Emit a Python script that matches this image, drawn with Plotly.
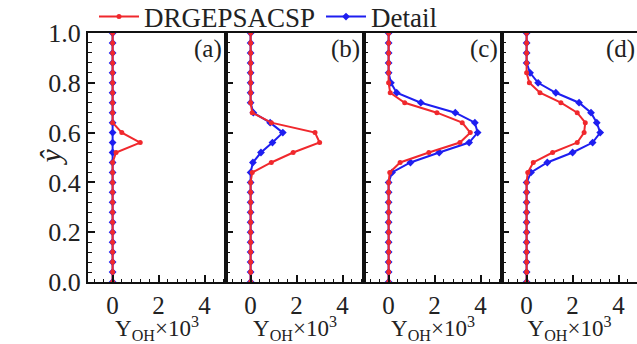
import plotly.graph_objects as go

# normalized height y-hat (common grid)
Y_GRID = [0.00, 0.04, 0.08, 0.12, 0.16, 0.20, 0.24, 0.28, 0.32, 0.36,
          0.40, 0.44, 0.48, 0.52, 0.56, 0.60, 0.64, 0.68, 0.72, 0.76,
          0.80, 0.84, 0.88, 0.92, 0.96, 1.00]

# Y_OH x 10^3 values, one entry per Y_GRID point
RED_A = [0, 0, 0, 0, 0, 0, 0, 0, 0, 0, 0, 0, 0, 0.15, 1.2, 0.4, 0, 0, 0, 0, 0, 0, 0, 0, 0, 0]
BLUE_A = [0, 0, 0, 0, 0, 0, 0, 0, 0, 0, 0, 0, 0, 0, 0, 0, 0, 0, 0, 0, 0, 0, 0, 0, 0, 0]

RED_B = [0, 0, 0, 0, 0, 0, 0, 0, 0, 0, 0, 0.07, 0.9, 1.85, 3.0, 2.8, 0.9, 0.07, 0, 0, 0, 0, 0, 0, 0, 0]
BLUE_B = [0, 0, 0, 0, 0, 0, 0, 0, 0, 0, 0, 0, 0.1, 0.45, 0.95, 1.4, 0.85, 0.12, 0, 0, 0, 0, 0, 0, 0, 0]

RED_C = [0, 0, 0, 0, 0, 0, 0, 0, 0, 0, 0, 0.05, 0.5, 1.75, 3.1, 3.55, 3.2, 2.1, 0.7, 0.07, 0, 0, 0, 0, 0, 0]
BLUE_C = [0, 0, 0, 0, 0, 0, 0, 0, 0, 0, 0, 0.15, 0.95, 2.2, 3.5, 3.87, 3.75, 2.9, 1.4, 0.35, 0.1, 0, 0, 0, 0, 0]

RED_D = [0, 0, 0, 0, 0, 0, 0, 0, 0, 0, 0, 0.05, 0.29, 1.13, 2.2, 2.5, 2.55, 2.2, 1.49, 0.58, 0.12, 0, 0, 0, 0, 0]
BLUE_D = [0, 0, 0, 0, 0, 0, 0, 0, 0, 0, 0, 0.19, 0.9, 2.0, 2.87, 3.2, 3.05, 2.8, 2.28, 1.27, 0.5, 0.15, 0, 0, 0, 0]

PANEL_LABELS = ["(a)", "(b)", "(c)", "(d)"]
RED_SERIES = [RED_A, RED_B, RED_C, RED_D]
BLUE_SERIES = [BLUE_A, BLUE_B, BLUE_C, BLUE_D]
X_TICKS = [0, 2, 4]
Y_TICKS = [0.0, 0.2, 0.4, 0.6, 0.8, 1.0]

RED = "rgb(240,40,45)"
BLUE = "rgb(30,30,240)"
FONT = "Liberation Serif"
TXT = "#222"

W, H = 637, 344
ML, MR, MT, MB = 88, 0, 33, 62
plot_w = W - ML - MR
plot_h = H - MT - MB
px_per_unit = 23.0
panel_w = 138.0
x0 = -1.07

fig = go.Figure()

domains = []
left = 0.0
for i in range(4):
    wpx = panel_w if i < 3 else (plot_w - 3 * panel_w)
    domains.append((left / plot_w, (left + wpx) / plot_w))
    left += wpx

for i in range(4):
    sfx = "" if i == 0 else str(i + 1)
    fig.add_trace(go.Scatter(
        x=BLUE_SERIES[i], y=Y_GRID, mode="lines+markers", name="Detail",
        line=dict(color=BLUE, width=2), marker=dict(symbol="diamond", size=6, color=BLUE),
        xaxis="x" + sfx, yaxis="y" + sfx, showlegend=(i == 0), legendrank=2))
for i in range(4):
    sfx = "" if i == 0 else str(i + 1)
    fig.add_trace(go.Scatter(
        x=RED_SERIES[i], y=Y_GRID, mode="lines+markers", name="DRGEPSACSP",
        line=dict(color=RED, width=2), marker=dict(symbol="circle", size=5, color=RED),
        xaxis="x" + sfx, yaxis="y" + sfx, showlegend=(i == 0), legendrank=1))

layout = dict(
    width=W, height=H, margin=dict(l=ML, r=MR, t=MT, b=MB, autoexpand=False),
    paper_bgcolor="white", plot_bgcolor="white",
    font=dict(family=FONT, size=24, color=TXT),
    legend=dict(orientation="h", x=(94 - ML) / plot_w, xanchor="left",
                y=1 + (MT - 17) / plot_h, yanchor="middle",
                font=dict(size=27, family=FONT, color=TXT), bgcolor="rgba(0,0,0,0)",
                tracegroupgap=0, itemwidth=40, entrywidth=172, entrywidthmode="pixels"),
    annotations=[dict(text="<i>ŷ</i>", xref="paper", yref="paper",
                      x=(50 - ML) / plot_w, y=0.5, textangle=-90, showarrow=False,
                      xanchor="center", yanchor="middle",
                      font=dict(family=FONT, size=30, color=TXT))],
)

for i in range(4):
    sfx = "" if i == 0 else str(i + 1)
    d0, d1 = domains[i]
    wpx = (d1 - d0) * plot_w
    xr = [x0, x0 + wpx / px_per_unit]
    layout["xaxis" + sfx] = dict(
        domain=[d0, d1], anchor="y" + sfx, range=xr,
        tickvals=X_TICKS, ticks="inside", ticklen=7, tickwidth=1.5, tickcolor="#111",
        minor=dict(dtick=0.4, tick0=0, ticks="inside", ticklen=3.5, tickwidth=1.2, tickcolor="#111"),
        showline=True, linecolor="#111", linewidth=2, mirror=True,
        showgrid=False, zeroline=False,
        tickfont=dict(family=FONT, size=25, color=TXT),
        title=dict(text="Y<sub>OH</sub>×10<sup>3</sup>", font=dict(family=FONT, size=23, color=TXT),
                   standoff=6),
    )
    ydict = dict(
        domain=[0, 1], anchor="x" + sfx, range=[0, 1],
        tickvals=Y_TICKS, ticks="inside", ticklen=7, tickwidth=1.5, tickcolor="#111",
        minor=dict(dtick=0.04, tick0=0, ticks="inside", ticklen=3.5, tickwidth=1.2, tickcolor="#111"),
        showline=True, linecolor="#111", linewidth=2, mirror=(i < 3),
        showgrid=False, zeroline=False,
        showticklabels=(i == 0), tickformat=".1f",
        tickfont=dict(family=FONT, size=26, color=TXT),
    )
    layout["yaxis" + sfx] = ydict
    layout["annotations"].append(dict(
        text=PANEL_LABELS[i], xref="x" + sfx + " domain", yref="y" + sfx + " domain",
        x=0.985 if i < 3 else 1.0, y=1.0, xanchor="right", yanchor="top", showarrow=False,
        font=dict(family=FONT, size=25, color=TXT)))

fig.update_layout(**layout)
fig.write_html("out.html")
